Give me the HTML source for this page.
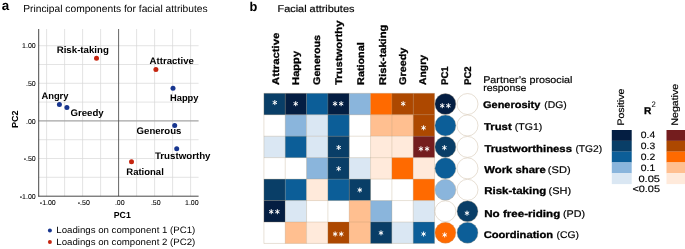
<!DOCTYPE html>
<html><head><meta charset="utf-8"><title>figure</title>
<style>
html,body{margin:0;padding:0;background:#fff;}
body{width:685px;height:249px;overflow:hidden;font-family:"Liberation Sans", sans-serif;}
svg{display:block;will-change:transform;}
svg text{font-family:"Liberation Sans", sans-serif;}
</style></head><body>
<svg width="685" height="249" viewBox="0 0 685 249" text-rendering="geometricPrecision">
<rect x="0" y="0" width="685" height="249" fill="#ffffff"/>
<text x="1.7" y="9.9" font-size="13.4" font-weight="bold" fill="#000">a</text>
<text x="23.2" y="11.7" font-size="10.1" textLength="184.5" lengthAdjust="spacingAndGlyphs" fill="#000">Principal components for facial attributes</text>
<line x1="46.60" y1="29.0" x2="46.60" y2="196.2" stroke="#d8d8d8" stroke-width="0.7"/>
<line x1="64.60" y1="29.0" x2="64.60" y2="196.2" stroke="#d8d8d8" stroke-width="0.7"/>
<line x1="82.60" y1="29.0" x2="82.60" y2="196.2" stroke="#d8d8d8" stroke-width="0.7"/>
<line x1="100.60" y1="29.0" x2="100.60" y2="196.2" stroke="#d8d8d8" stroke-width="0.7"/>
<line x1="136.60" y1="29.0" x2="136.60" y2="196.2" stroke="#d8d8d8" stroke-width="0.7"/>
<line x1="154.60" y1="29.0" x2="154.60" y2="196.2" stroke="#d8d8d8" stroke-width="0.7"/>
<line x1="172.60" y1="29.0" x2="172.60" y2="196.2" stroke="#d8d8d8" stroke-width="0.7"/>
<line x1="190.60" y1="29.0" x2="190.60" y2="196.2" stroke="#d8d8d8" stroke-width="0.7"/>
<line x1="38.7" y1="177.30" x2="198.6" y2="177.30" stroke="#d8d8d8" stroke-width="0.7"/>
<line x1="38.7" y1="158.50" x2="198.6" y2="158.50" stroke="#d8d8d8" stroke-width="0.7"/>
<line x1="38.7" y1="139.70" x2="198.6" y2="139.70" stroke="#d8d8d8" stroke-width="0.7"/>
<line x1="38.7" y1="102.10" x2="198.6" y2="102.10" stroke="#d8d8d8" stroke-width="0.7"/>
<line x1="38.7" y1="83.30" x2="198.6" y2="83.30" stroke="#d8d8d8" stroke-width="0.7"/>
<line x1="38.7" y1="64.50" x2="198.6" y2="64.50" stroke="#d8d8d8" stroke-width="0.7"/>
<line x1="38.7" y1="45.70" x2="198.6" y2="45.70" stroke="#d8d8d8" stroke-width="0.7"/>
<line x1="38.7" y1="120.90" x2="198.6" y2="120.90" stroke="#a4a4a4" stroke-width="1.1"/>
<line x1="118.60" y1="29.0" x2="118.60" y2="196.2" stroke="#555" stroke-width="0.9"/>
<line x1="38.7" y1="29.0" x2="38.7" y2="196.6" stroke="#333" stroke-width="0.9"/>
<line x1="38.300000000000004" y1="196.2" x2="198.6" y2="196.2" stroke="#333" stroke-width="0.9"/>
<text x="35.7" y="48.3" font-size="7.0" text-anchor="end" fill="#000" stroke="#000" stroke-width="0.08">1.00</text>
<text x="35.7" y="85.9" font-size="7.0" text-anchor="end" fill="#000" stroke="#000" stroke-width="0.08">.50</text>
<text x="35.7" y="123.5" font-size="7.0" text-anchor="end" fill="#000" stroke="#000" stroke-width="0.08">.00</text>
<text x="35.7" y="161.1" font-size="7.0" text-anchor="end" fill="#000" stroke="#000" stroke-width="0.08">-.50</text>
<text x="35.7" y="198.7" font-size="7.0" text-anchor="end" fill="#000" stroke="#000" stroke-width="0.08">-1.00</text>
<text x="47.8" y="204.5" font-size="7.0" text-anchor="middle" fill="#000" stroke="#000" stroke-width="0.08">-1.00</text>
<text x="83.8" y="204.5" font-size="7.0" text-anchor="middle" fill="#000" stroke="#000" stroke-width="0.08">-.50</text>
<text x="119.8" y="204.5" font-size="7.0" text-anchor="middle" fill="#000" stroke="#000" stroke-width="0.08">.00</text>
<text x="155.8" y="204.5" font-size="7.0" text-anchor="middle" fill="#000" stroke="#000" stroke-width="0.08">.50</text>
<text x="191.8" y="204.5" font-size="7.0" text-anchor="middle" fill="#000" stroke="#000" stroke-width="0.08">1.00</text>
<text x="113.8" y="217.9" font-size="8.8" font-weight="bold" textLength="17.0" lengthAdjust="spacingAndGlyphs" fill="#000">PC1</text>
<text x="18.3" y="127.9" font-size="8.8" font-weight="bold" textLength="17.5" lengthAdjust="spacingAndGlyphs" transform="rotate(-90 18.3 127.9)" fill="#000">PC2</text>
<circle cx="59.4" cy="104.5" r="2.5" fill="#18368f"/>
<circle cx="66.9" cy="107.6" r="2.5" fill="#18368f"/>
<circle cx="96.5" cy="58.2" r="2.5" fill="#c5250f"/>
<circle cx="155.9" cy="69.4" r="2.5" fill="#c5250f"/>
<circle cx="173.0" cy="88.3" r="2.5" fill="#18368f"/>
<circle cx="174.7" cy="125.5" r="2.5" fill="#18368f"/>
<circle cx="176.7" cy="148.8" r="2.5" fill="#18368f"/>
<circle cx="131.5" cy="161.7" r="2.5" fill="#c5250f"/>
<text x="56.7" y="53.1" font-size="9.5" font-weight="bold" textLength="52.2" lengthAdjust="spacingAndGlyphs" fill="#000">Risk-taking</text>
<text x="149.6" y="64.3" font-size="9.5" font-weight="bold" textLength="44.3" lengthAdjust="spacingAndGlyphs" fill="#000">Attractive</text>
<text x="41.4" y="98.7" font-size="9.5" font-weight="bold" textLength="27.1" lengthAdjust="spacingAndGlyphs" fill="#000">Angry</text>
<text x="70.5" y="116.4" font-size="9.5" font-weight="bold" textLength="33.2" lengthAdjust="spacingAndGlyphs" fill="#000">Greedy</text>
<text x="170.0" y="100.6" font-size="9.5" font-weight="bold" textLength="28.5" lengthAdjust="spacingAndGlyphs" fill="#000">Happy</text>
<text x="136.6" y="134.1" font-size="9.5" font-weight="bold" textLength="44.8" lengthAdjust="spacingAndGlyphs" fill="#000">Generous</text>
<text x="154.9" y="159.4" font-size="9.5" font-weight="bold" textLength="55.6" lengthAdjust="spacingAndGlyphs" fill="#000">Trustworthy</text>
<text x="126.3" y="174.6" font-size="9.5" font-weight="bold" textLength="37.5" lengthAdjust="spacingAndGlyphs" fill="#000">Rational</text>
<circle cx="49.9" cy="230.6" r="2.0" fill="#18368f"/>
<circle cx="49.9" cy="242.0" r="2.0" fill="#c5250f"/>
<text x="56.3" y="233.2" font-size="9.2" textLength="139.0" lengthAdjust="spacingAndGlyphs" fill="#000">Loadings on component 1 (PC1)</text>
<text x="56.3" y="244.6" font-size="9.2" textLength="139.0" lengthAdjust="spacingAndGlyphs" fill="#000">Loadings on component 2 (PC2)</text>
<text x="249.4" y="11.0" font-size="12.8" font-weight="bold" fill="#000">b</text>
<text x="277.5" y="12.0" font-size="9.8" textLength="76.9" lengthAdjust="spacingAndGlyphs" fill="#000" stroke="#000" stroke-width="0.18">Facial attributes</text>
<rect x="263.90" y="93.30" width="21.38" height="21.5" fill="#093e67"/>
<rect x="285.23" y="93.30" width="21.38" height="21.5" fill="#041e42"/>
<rect x="306.56" y="93.30" width="21.38" height="21.5" fill="#0c5e98"/>
<rect x="327.89" y="93.30" width="21.38" height="21.5" fill="#041e42"/>
<rect x="349.22" y="93.30" width="21.38" height="21.5" fill="#8ab5dc"/>
<rect x="370.55" y="93.30" width="21.38" height="21.5" fill="#ff6a00"/>
<rect x="391.88" y="93.30" width="21.38" height="21.5" fill="#ad4800"/>
<rect x="413.21" y="93.30" width="21.38" height="21.5" fill="#ad4800"/>
<rect x="285.23" y="114.75" width="21.38" height="21.5" fill="#8ab5dc"/>
<rect x="306.56" y="114.75" width="21.38" height="21.5" fill="#dae7f3"/>
<rect x="327.89" y="114.75" width="21.38" height="21.5" fill="#0c5e98"/>
<rect x="370.55" y="114.75" width="21.38" height="21.5" fill="#ffbf90"/>
<rect x="391.88" y="114.75" width="21.38" height="21.5" fill="#ffbf90"/>
<rect x="413.21" y="114.75" width="21.38" height="21.5" fill="#ad4800"/>
<rect x="263.90" y="136.20" width="21.38" height="21.5" fill="#dae7f3"/>
<rect x="285.23" y="136.20" width="21.38" height="21.5" fill="#0c5e98"/>
<rect x="306.56" y="136.20" width="21.38" height="21.5" fill="#dae7f3"/>
<rect x="327.89" y="136.20" width="21.38" height="21.5" fill="#093e67"/>
<rect x="370.55" y="136.20" width="21.38" height="21.5" fill="#ffeadb"/>
<rect x="391.88" y="136.20" width="21.38" height="21.5" fill="#ffeadb"/>
<rect x="413.21" y="136.20" width="21.38" height="21.5" fill="#741d1e"/>
<rect x="306.56" y="157.65" width="21.38" height="21.5" fill="#8ab5dc"/>
<rect x="327.89" y="157.65" width="21.38" height="21.5" fill="#093e67"/>
<rect x="349.22" y="157.65" width="21.38" height="21.5" fill="#dae7f3"/>
<rect x="370.55" y="157.65" width="21.38" height="21.5" fill="#ffeadb"/>
<rect x="391.88" y="157.65" width="21.38" height="21.5" fill="#ff6a00"/>
<rect x="413.21" y="157.65" width="21.38" height="21.5" fill="#ffeadb"/>
<rect x="263.90" y="179.10" width="21.38" height="21.5" fill="#093e67"/>
<rect x="285.23" y="179.10" width="21.38" height="21.5" fill="#0c5e98"/>
<rect x="306.56" y="179.10" width="21.38" height="21.5" fill="#ffeadb"/>
<rect x="327.89" y="179.10" width="21.38" height="21.5" fill="#0c5e98"/>
<rect x="349.22" y="179.10" width="21.38" height="21.5" fill="#093e67"/>
<rect x="413.21" y="179.10" width="21.38" height="21.5" fill="#ff6a00"/>
<rect x="263.90" y="200.55" width="21.38" height="21.5" fill="#041e42"/>
<rect x="285.23" y="200.55" width="21.38" height="21.5" fill="#dae7f3"/>
<rect x="349.22" y="200.55" width="21.38" height="21.5" fill="#ffbf90"/>
<rect x="370.55" y="200.55" width="21.38" height="21.5" fill="#8ab5dc"/>
<rect x="413.21" y="200.55" width="21.38" height="21.5" fill="#dae7f3"/>
<rect x="285.23" y="222.00" width="21.38" height="21.5" fill="#ffbf90"/>
<rect x="306.56" y="222.00" width="21.38" height="21.5" fill="#ffeadb"/>
<rect x="327.89" y="222.00" width="21.38" height="21.5" fill="#ad4800"/>
<rect x="349.22" y="222.00" width="21.38" height="21.5" fill="#ffbf90"/>
<rect x="370.55" y="222.00" width="21.38" height="21.5" fill="#093e67"/>
<rect x="391.88" y="222.00" width="21.38" height="21.5" fill="#dae7f3"/>
<rect x="413.21" y="222.00" width="21.38" height="21.5" fill="#0c5e98"/>
<line x1="263.90" y1="93.3" x2="263.90" y2="243.45" stroke="#a88c68" stroke-opacity="0.38" stroke-width="0.7"/>
<line x1="285.23" y1="93.3" x2="285.23" y2="243.45" stroke="#a88c68" stroke-opacity="0.38" stroke-width="0.7"/>
<line x1="306.56" y1="93.3" x2="306.56" y2="243.45" stroke="#a88c68" stroke-opacity="0.38" stroke-width="0.7"/>
<line x1="327.89" y1="93.3" x2="327.89" y2="243.45" stroke="#a88c68" stroke-opacity="0.38" stroke-width="0.7"/>
<line x1="349.22" y1="93.3" x2="349.22" y2="243.45" stroke="#a88c68" stroke-opacity="0.38" stroke-width="0.7"/>
<line x1="370.55" y1="93.3" x2="370.55" y2="243.45" stroke="#a88c68" stroke-opacity="0.38" stroke-width="0.7"/>
<line x1="391.88" y1="93.3" x2="391.88" y2="243.45" stroke="#a88c68" stroke-opacity="0.38" stroke-width="0.7"/>
<line x1="413.21" y1="93.3" x2="413.21" y2="243.45" stroke="#a88c68" stroke-opacity="0.38" stroke-width="0.7"/>
<line x1="434.54" y1="93.3" x2="434.54" y2="243.45" stroke="#a88c68" stroke-opacity="0.38" stroke-width="0.7"/>
<line x1="263.9" y1="93.30" x2="434.54" y2="93.30" stroke="#a88c68" stroke-opacity="0.38" stroke-width="0.7"/>
<line x1="263.9" y1="114.75" x2="434.54" y2="114.75" stroke="#a88c68" stroke-opacity="0.38" stroke-width="0.7"/>
<line x1="263.9" y1="136.20" x2="434.54" y2="136.20" stroke="#a88c68" stroke-opacity="0.38" stroke-width="0.7"/>
<line x1="263.9" y1="157.65" x2="434.54" y2="157.65" stroke="#a88c68" stroke-opacity="0.38" stroke-width="0.7"/>
<line x1="263.9" y1="179.10" x2="434.54" y2="179.10" stroke="#a88c68" stroke-opacity="0.38" stroke-width="0.7"/>
<line x1="263.9" y1="200.55" x2="434.54" y2="200.55" stroke="#a88c68" stroke-opacity="0.38" stroke-width="0.7"/>
<line x1="263.9" y1="222.00" x2="434.54" y2="222.00" stroke="#a88c68" stroke-opacity="0.38" stroke-width="0.7"/>
<line x1="263.9" y1="243.45" x2="434.54" y2="243.45" stroke="#a88c68" stroke-opacity="0.38" stroke-width="0.7"/>
<circle cx="445.4" cy="104.02" r="10.5" fill="#041e42" stroke="#b9a283" stroke-opacity="0.5" stroke-width="0.7"/>
<circle cx="467.5" cy="104.02" r="10.5" fill="#ffffff" stroke="#b9a283" stroke-opacity="0.5" stroke-width="0.7"/>
<circle cx="445.4" cy="125.47" r="10.5" fill="#0c5e98" stroke="#b9a283" stroke-opacity="0.5" stroke-width="0.7"/>
<circle cx="467.5" cy="125.47" r="10.5" fill="#ffffff" stroke="#b9a283" stroke-opacity="0.5" stroke-width="0.7"/>
<circle cx="445.4" cy="146.92" r="10.5" fill="#093e67" stroke="#b9a283" stroke-opacity="0.5" stroke-width="0.7"/>
<circle cx="467.5" cy="146.92" r="10.5" fill="#ffffff" stroke="#b9a283" stroke-opacity="0.5" stroke-width="0.7"/>
<circle cx="445.4" cy="168.37" r="10.5" fill="#0c5e98" stroke="#b9a283" stroke-opacity="0.5" stroke-width="0.7"/>
<circle cx="467.5" cy="168.37" r="10.5" fill="#ffffff" stroke="#b9a283" stroke-opacity="0.5" stroke-width="0.7"/>
<circle cx="445.4" cy="189.82" r="10.5" fill="#8ab5dc" stroke="#b9a283" stroke-opacity="0.5" stroke-width="0.7"/>
<circle cx="467.5" cy="189.82" r="10.5" fill="#ffffff" stroke="#b9a283" stroke-opacity="0.5" stroke-width="0.7"/>
<circle cx="445.4" cy="211.28" r="10.5" fill="#ffffff" stroke="#b9a283" stroke-opacity="0.5" stroke-width="0.7"/>
<circle cx="467.5" cy="211.28" r="10.5" fill="#093e67" stroke="#b9a283" stroke-opacity="0.5" stroke-width="0.7"/>
<circle cx="445.4" cy="232.72" r="10.5" fill="#ff6a00" stroke="#b9a283" stroke-opacity="0.5" stroke-width="0.7"/>
<circle cx="467.5" cy="232.72" r="10.5" fill="#0c5e98" stroke="#b9a283" stroke-opacity="0.5" stroke-width="0.7"/>
<path d="M274.80,100.10v5M272.63,101.35l4.34,2.5M272.63,103.85l4.34,-2.5" stroke="#fff" stroke-width="1.0" fill="none"/>
<path d="M295.70,101.20v5M293.53,102.45l4.34,2.5M293.53,104.95l4.34,-2.5" stroke="#fff" stroke-width="1.0" fill="none"/>
<path d="M335.05,101.20v5M332.88,102.45l4.34,2.5M332.88,104.95l4.34,-2.5" stroke="#fff" stroke-width="1.0" fill="none"/>
<path d="M341.15,101.20v5M338.98,102.45l4.34,2.5M338.98,104.95l4.34,-2.5" stroke="#fff" stroke-width="1.0" fill="none"/>
<path d="M403.20,101.20v5M401.03,102.45l4.34,2.5M401.03,104.95l4.34,-2.5" stroke="#fff" stroke-width="1.0" fill="none"/>
<path d="M442.25,103.20v5M440.08,104.45l4.34,2.5M440.08,106.95l4.34,-2.5" stroke="#fff" stroke-width="1.0" fill="none"/>
<path d="M448.35,103.20v5M446.18,104.45l4.34,2.5M446.18,106.95l4.34,-2.5" stroke="#fff" stroke-width="1.0" fill="none"/>
<path d="M423.60,125.30v5M421.43,126.55l4.34,2.5M421.43,129.05l4.34,-2.5" stroke="#fff" stroke-width="1.0" fill="none"/>
<path d="M338.70,145.00v5M336.53,146.25l4.34,2.5M336.53,148.75l4.34,-2.5" stroke="#fff" stroke-width="1.0" fill="none"/>
<path d="M420.95,146.30v5M418.78,147.55l4.34,2.5M418.78,150.05l4.34,-2.5" stroke="#fff" stroke-width="1.0" fill="none"/>
<path d="M427.05,146.30v5M424.88,147.55l4.34,2.5M424.88,150.05l4.34,-2.5" stroke="#fff" stroke-width="1.0" fill="none"/>
<path d="M444.40,145.20v5M442.23,146.45l4.34,2.5M442.23,148.95l4.34,-2.5" stroke="#fff" stroke-width="1.0" fill="none"/>
<path d="M338.70,166.20v5M336.53,167.45l4.34,2.5M336.53,169.95l4.34,-2.5" stroke="#fff" stroke-width="1.0" fill="none"/>
<path d="M359.80,187.50v5M357.63,188.75l4.34,2.5M357.63,191.25l4.34,-2.5" stroke="#fff" stroke-width="1.0" fill="none"/>
<path d="M271.25,209.20v5M269.08,210.45l4.34,2.5M269.08,212.95l4.34,-2.5" stroke="#fff" stroke-width="1.0" fill="none"/>
<path d="M277.35,209.20v5M275.18,210.45l4.34,2.5M275.18,212.95l4.34,-2.5" stroke="#fff" stroke-width="1.0" fill="none"/>
<path d="M467.00,210.70v5M464.83,211.95l4.34,2.5M464.83,214.45l4.34,-2.5" stroke="#fff" stroke-width="1.0" fill="none"/>
<path d="M335.15,231.50v5M332.98,232.75l4.34,2.5M332.98,235.25l4.34,-2.5" stroke="#fff" stroke-width="1.0" fill="none"/>
<path d="M341.25,231.50v5M339.08,232.75l4.34,2.5M339.08,235.25l4.34,-2.5" stroke="#fff" stroke-width="1.0" fill="none"/>
<path d="M381.00,230.40v5M378.83,231.65l4.34,2.5M378.83,234.15l4.34,-2.5" stroke="#fff" stroke-width="1.0" fill="none"/>
<path d="M423.60,231.50v5M421.43,232.75l4.34,2.5M421.43,235.25l4.34,-2.5" stroke="#fff" stroke-width="1.0" fill="none"/>
<path d="M444.70,232.40v5M442.53,233.65l4.34,2.5M442.53,236.15l4.34,-2.5" stroke="#fff" stroke-width="1.0" fill="none"/>
<text x="278.6" y="84.9" font-size="9.7" font-weight="bold" textLength="52.2" lengthAdjust="spacingAndGlyphs" transform="rotate(-90 278.6 84.9)" fill="#000" stroke="#000" stroke-width="0.3">Attractive</text>
<text x="298.8" y="84.9" font-size="9.7" font-weight="bold" textLength="34.0" lengthAdjust="spacingAndGlyphs" transform="rotate(-90 298.8 84.9)" fill="#000" stroke="#000" stroke-width="0.3">Happy</text>
<text x="320.4" y="84.9" font-size="9.7" font-weight="bold" textLength="50.0" lengthAdjust="spacingAndGlyphs" transform="rotate(-90 320.4 84.9)" fill="#000" stroke="#000" stroke-width="0.3">Generous</text>
<text x="341.6" y="84.9" font-size="9.7" font-weight="bold" textLength="64.4" lengthAdjust="spacingAndGlyphs" transform="rotate(-90 341.6 84.9)" fill="#000" stroke="#000" stroke-width="0.3">Trustworthy</text>
<text x="363.6" y="84.9" font-size="9.7" font-weight="bold" textLength="42.6" lengthAdjust="spacingAndGlyphs" transform="rotate(-90 363.6 84.9)" fill="#000" stroke="#000" stroke-width="0.3">Rational</text>
<text x="386.3" y="84.9" font-size="9.7" font-weight="bold" textLength="60.3" lengthAdjust="spacingAndGlyphs" transform="rotate(-90 386.3 84.9)" fill="#000" stroke="#000" stroke-width="0.3">Risk-taking</text>
<text x="406.0" y="84.9" font-size="9.7" font-weight="bold" textLength="37.2" lengthAdjust="spacingAndGlyphs" transform="rotate(-90 406.0 84.9)" fill="#000" stroke="#000" stroke-width="0.3">Greedy</text>
<text x="426.5" y="84.9" font-size="9.7" font-weight="bold" textLength="29.8" lengthAdjust="spacingAndGlyphs" transform="rotate(-90 426.5 84.9)" fill="#000" stroke="#000" stroke-width="0.3">Angry</text>
<text x="448.4" y="84.9" font-size="9.7" font-weight="bold" textLength="18.6" lengthAdjust="spacingAndGlyphs" transform="rotate(-90 448.4 84.9)" fill="#000" stroke="#000" stroke-width="0.3">PC1</text>
<text x="470.9" y="84.9" font-size="9.7" font-weight="bold" textLength="18.6" lengthAdjust="spacingAndGlyphs" transform="rotate(-90 470.9 84.9)" fill="#000" stroke="#000" stroke-width="0.3">PC2</text>
<text x="483.2" y="82.8" font-size="9.7" textLength="89.3" lengthAdjust="spacingAndGlyphs" fill="#000" stroke="#000" stroke-width="0.18">Partner&#8217;s prosocial</text>
<text x="483.2" y="90.9" font-size="9.7" textLength="43.2" lengthAdjust="spacingAndGlyphs" fill="#000" stroke="#000" stroke-width="0.18">response</text>
<text x="483.0" y="107.9" font-size="9.8" font-weight="bold" textLength="57.3" lengthAdjust="spacingAndGlyphs" fill="#000" stroke="#000" stroke-width="0.3">Generosity</text>
<text x="544.3" y="107.9" font-size="9.7" textLength="22.5" lengthAdjust="spacingAndGlyphs" fill="#000" stroke="#000" stroke-width="0.18">(DG)</text>
<text x="484.0" y="129.8" font-size="9.8" font-weight="bold" textLength="27.7" lengthAdjust="spacingAndGlyphs" fill="#000" stroke="#000" stroke-width="0.3">Trust</text>
<text x="514.8" y="129.8" font-size="9.7" textLength="27.5" lengthAdjust="spacingAndGlyphs" fill="#000" stroke="#000" stroke-width="0.18">(TG1)</text>
<text x="484.4" y="151.8" font-size="9.8" font-weight="bold" textLength="87.6" lengthAdjust="spacingAndGlyphs" fill="#000" stroke="#000" stroke-width="0.3">Trustworthiness</text>
<text x="575.4" y="151.8" font-size="9.7" textLength="26.8" lengthAdjust="spacingAndGlyphs" fill="#000" stroke="#000" stroke-width="0.18">(TG2)</text>
<text x="484.3" y="172.5" font-size="9.8" font-weight="bold" textLength="61.4" lengthAdjust="spacingAndGlyphs" fill="#000" stroke="#000" stroke-width="0.3">Work share</text>
<text x="547.8" y="172.5" font-size="9.7" textLength="22.8" lengthAdjust="spacingAndGlyphs" fill="#000" stroke="#000" stroke-width="0.18">(SD)</text>
<text x="484.2" y="193.7" font-size="9.8" font-weight="bold" textLength="62.0" lengthAdjust="spacingAndGlyphs" fill="#000" stroke="#000" stroke-width="0.3">Risk-taking</text>
<text x="548.5" y="193.7" font-size="9.7" textLength="22.6" lengthAdjust="spacingAndGlyphs" fill="#000" stroke="#000" stroke-width="0.18">(SH)</text>
<text x="484.2" y="217.1" font-size="9.8" font-weight="bold" textLength="76.1" lengthAdjust="spacingAndGlyphs" fill="#000" stroke="#000" stroke-width="0.3">No free-riding</text>
<text x="563.0" y="217.1" font-size="9.7" textLength="22.1" lengthAdjust="spacingAndGlyphs" fill="#000" stroke="#000" stroke-width="0.18">(PD)</text>
<text x="483.7" y="237.9" font-size="9.8" font-weight="bold" textLength="69.4" lengthAdjust="spacingAndGlyphs" fill="#000" stroke="#000" stroke-width="0.3">Coordination</text>
<text x="556.6" y="237.9" font-size="9.7" textLength="22.4" lengthAdjust="spacingAndGlyphs" fill="#000" stroke="#000" stroke-width="0.18">(CG)</text>
<text x="624.0" y="125.6" font-size="9.5" textLength="36.9" lengthAdjust="spacingAndGlyphs" transform="rotate(-90 624.0 125.6)" fill="#000" stroke="#000" stroke-width="0.18">Positive</text>
<text x="678.0" y="125.6" font-size="9.5" textLength="41.7" lengthAdjust="spacingAndGlyphs" transform="rotate(-90 678.0 125.6)" fill="#000" stroke="#000" stroke-width="0.18">Negative</text>
<text x="644.0" y="114.0" font-size="10.0" font-weight="bold" textLength="7.3" lengthAdjust="spacingAndGlyphs" fill="#000" stroke="#000" stroke-width="0.3">R</text>
<text x="651.4" y="107.1" font-size="8.0" textLength="4.3" lengthAdjust="spacingAndGlyphs" fill="#000">2</text>
<rect x="611.8" y="130.00" width="19.9" height="10.9" fill="#041e42"/>
<rect x="666.5" y="130.00" width="19" height="10.9" fill="#741d1e"/>
<rect x="611.8" y="140.80" width="19.9" height="10.9" fill="#093e67"/>
<rect x="666.5" y="140.80" width="19" height="10.9" fill="#ad4800"/>
<rect x="611.8" y="151.60" width="19.9" height="10.9" fill="#0c5e98"/>
<rect x="666.5" y="151.60" width="19" height="10.9" fill="#ff6a00"/>
<rect x="611.8" y="162.40" width="19.9" height="10.9" fill="#8ab5dc"/>
<rect x="666.5" y="162.40" width="19" height="10.9" fill="#ffbf90"/>
<rect x="611.8" y="173.20" width="19.9" height="10.9" fill="#dae7f3"/>
<rect x="666.5" y="173.20" width="19" height="10.9" fill="#ffeadb"/>
<text x="640.8" y="138.4" font-size="9.3" textLength="14.4" lengthAdjust="spacingAndGlyphs" fill="#000" stroke="#000" stroke-width="0.15">0.4</text>
<text x="640.8" y="149.2" font-size="9.3" textLength="14.4" lengthAdjust="spacingAndGlyphs" fill="#000" stroke="#000" stroke-width="0.15">0.3</text>
<text x="640.8" y="160.0" font-size="9.3" textLength="14.4" lengthAdjust="spacingAndGlyphs" fill="#000" stroke="#000" stroke-width="0.15">0.2</text>
<text x="640.8" y="170.8" font-size="9.3" textLength="14.4" lengthAdjust="spacingAndGlyphs" fill="#000" stroke="#000" stroke-width="0.15">0.1</text>
<text x="638.4" y="181.6" font-size="9.3" textLength="21.6" lengthAdjust="spacingAndGlyphs" fill="#000" stroke="#000" stroke-width="0.15">0.05</text>
<text x="632.4" y="192.4" font-size="9.3" textLength="27.6" lengthAdjust="spacingAndGlyphs" fill="#000" stroke="#000" stroke-width="0.15">&lt;0.05</text>
</svg>
</body></html>
